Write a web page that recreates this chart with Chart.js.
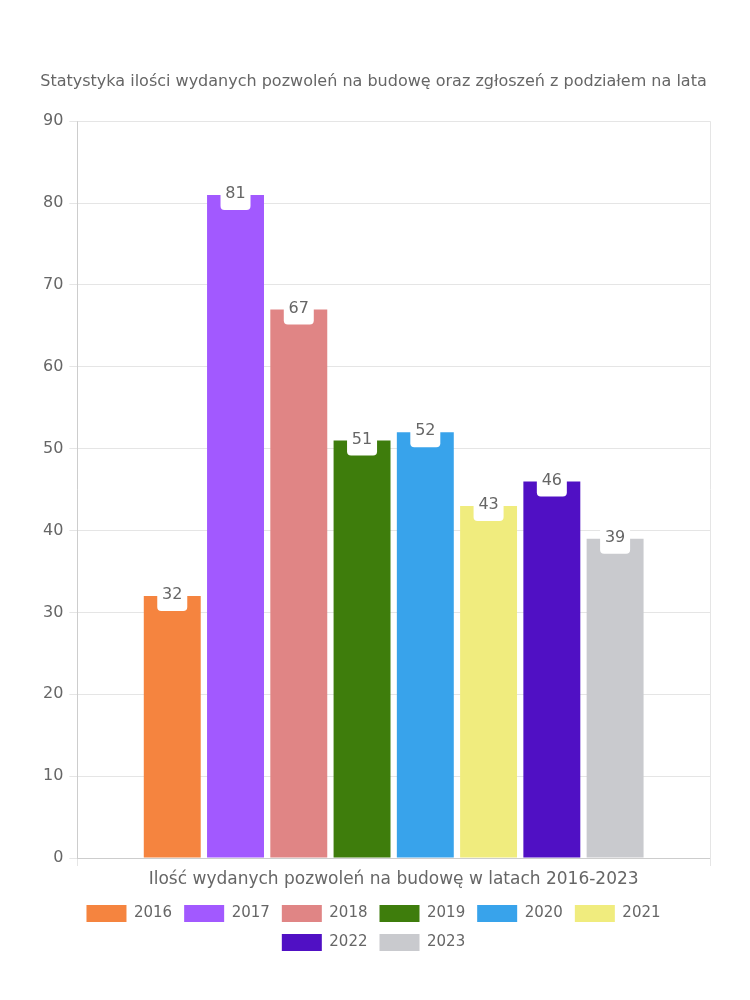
<!DOCTYPE html>
<html>
<head>
<meta charset="utf-8">
<script src="https://cdn.jsdelivr.net/npm/chart.js@4"></script>
<style>
  body { margin: 0; background: #fff; }
  #wrap { width: 750px; height: 1000px; }
</style>
</head>
<body>
<div id="wrap"><canvas id="myChart"></canvas></div>
<script>
const title = "Statystyka ilości wydanych pozwoleń na budowę oraz zgłoszeń z podziałem na lata";
const categories = ["Ilość wydanych pozwoleń na budowę w latach 2016-2023"];
const years = ["2016", "2017", "2018", "2019", "2020", "2021", "2022", "2023"];
const values = [32, 81, 67, 51, 52, 43, 46, 39];
const colors = ["#F5843F", "#A259FF", "#E08585", "#3E7D0C", "#38A3EB", "#F0EC7E", "#5010C4", "#C9CACE"];

const fontFamily = "'DejaVu Sans', sans-serif";
Chart.defaults.font.family = fontFamily;
Chart.defaults.font.size = 15;
Chart.defaults.color = "#666";

// white label box sitting on top of each bar
const barLabels = {
    id: "barLabels",
    afterDatasetsDraw(chart) {
        const ctx = chart.ctx;
        ctx.save();
        chart.data.datasets.forEach((ds, i) => {
            const meta = chart.getDatasetMeta(i);
            if (meta.hidden) return;
            meta.data.forEach((bar, j) => {
                const w = 30, h = 30;
                ctx.fillStyle = "#fff";
                ctx.beginPath();
                ctx.roundRect(bar.x - w / 2, bar.y - h / 2, w, h, 4);
                ctx.fill();
                ctx.fillStyle = "#666";
                ctx.font = "16px " + fontFamily;
                ctx.textAlign = "center";
                ctx.textBaseline = "middle";
                ctx.fillText(ds.data[j], bar.x, bar.y - 1);
            });
        });
        ctx.restore();
    }
};

const ctx = document.getElementById("myChart").getContext("2d");
const myChart = new Chart(ctx, {
    type: "bar",
    data: {
        labels: categories,
        datasets: years.map((y, i) => ({
            label: y,
            data: [values[i]],
            backgroundColor: colors[i],
            borderWidth: 0
        }))
    },
    options: {
        responsive: true,
        maintainAspectRatio: false,
        animation: false,
        layout: { padding: { left: 37, right: 40, top: 72, bottom: 39 } },
        scales: {
            x: {
                grid: { color: "#e5e5e5", offset: true },
                ticks: { padding: 5, font: { size: 17, lineHeight: 1 } }
            },
            y: {
                min: 0,
                max: 90,
                ticks: { stepSize: 10, padding: 6, font: { size: 16 } },
                grid: { color: "#e5e5e5" }
            }
        },
        plugins: {
            title: {
                display: true,
                text: title,
                padding: { top: 0, bottom: 30 },
                font: { weight: "normal", size: 16 }
            },
            legend: {
                position: "bottom",
                labels: { boxWidth: 40, boxHeight: 17, padding: 12 }
            },
            tooltip: { enabled: false }
        }
    },
    plugins: [barLabels]
});
</script>
</body>
</html>
